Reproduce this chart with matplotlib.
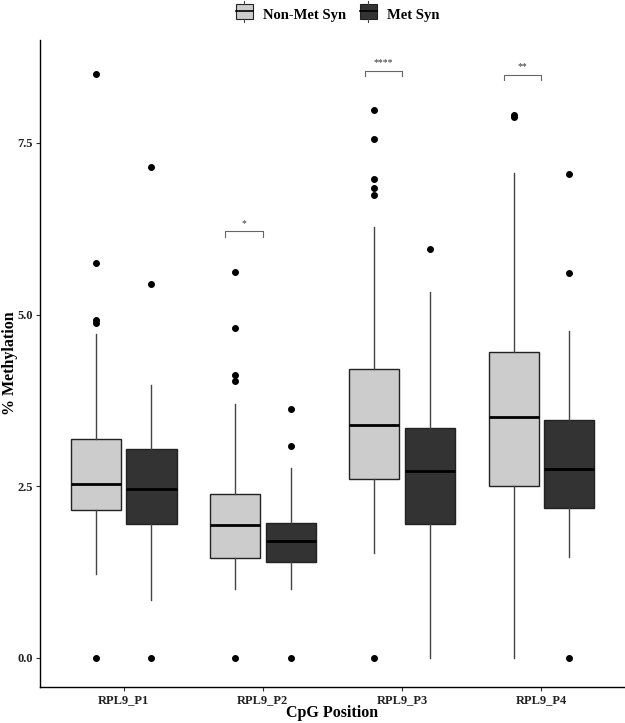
import numpy as np
import matplotlib
matplotlib.use('Agg')
import matplotlib.pyplot as plt
from matplotlib.legend_handler import HandlerBase
from matplotlib.patches import Rectangle
from matplotlib.lines import Line2D

plt.rcParams['font.family'] = ['Liberation Serif', 'DejaVu Serif']

positions = ['RPL9_P1', 'RPL9_P2', 'RPL9_P3', 'RPL9_P4']
groups = ['Non-Met Syn', 'Met Syn']

# box statistics: whislo, q1, med, q3, whishi
nonmet_lo = [1.22, 1.00, 1.53, 0.00]
nonmet_q1 = [2.15, 1.46, 2.61, 2.51]
nonmet_med = [2.53, 1.94, 3.39, 3.51]
nonmet_q3 = [3.19, 2.39, 4.21, 4.46]
nonmet_hi = [4.72, 3.70, 6.28, 7.06]
nonmet_out = [[8.50, 5.75, 4.92, 4.87, 0.0],
              [5.62, 4.80, 4.12, 4.03, 0.0],
              [7.98, 7.56, 6.97, 6.84, 6.74, 0.0],
              [7.90, 7.88]]

met_lo = [0.85, 1.00, 0.00, 1.47]
met_q1 = [1.95, 1.40, 1.95, 2.19]
met_med = [2.46, 1.70, 2.72, 2.75]
met_q3 = [3.04, 1.96, 3.35, 3.47]
met_hi = [3.98, 2.77, 5.33, 4.76]
met_out = [[7.15, 5.45, 0.0],
           [3.62, 3.09, 0.0],
           [5.96],
           [7.05, 5.61, 0.0]]

# significance brackets
sig_pos = [2, 3, 4]
sig_y = [6.21, 8.55, 8.49]
sig_lab = ['*', '****', '**']

fig = plt.figure(figsize=(6.25, 7.23), dpi=100)
ax = fig.add_axes([0.064, 0.05, 0.936, 0.895])

x = np.arange(1, len(positions) + 1)
dodge = 0.2
width = 0.36


def make_stats(lo, q1, med, q3, hi, out):
    return [dict(whislo=a, q1=b, med=c, q3=d, whishi=e, fliers=f)
            for a, b, c, d, e, f in zip(lo, q1, med, q3, hi, out)]


for stats, xs, fc in [
    (make_stats(nonmet_lo, nonmet_q1, nonmet_med, nonmet_q3, nonmet_hi, nonmet_out), x - dodge, '#cccccc'),
    (make_stats(met_lo, met_q1, met_med, met_q3, met_hi, met_out), x + dodge, '#333333'),
]:
    ax.bxp(stats, positions=xs, widths=width, patch_artist=True, showcaps=False,
           boxprops=dict(facecolor=fc, edgecolor='#222222', linewidth=1.0),
           whiskerprops=dict(color='#444444', linewidth=1.0),
           medianprops=dict(color='black', linewidth=2.0),
           flierprops=dict(marker='o', markerfacecolor='black', markeredgecolor='black',
                           markersize=4))

for p, yv, lab in zip(sig_pos, sig_y, sig_lab):
    x0, x1 = p - 0.27, p
    ax.plot([x0, x0, x1, x1], [yv - 0.08, yv, yv, yv - 0.08], color='#666666', lw=0.8)
    ax.text((x0 + x1) / 2, yv + 0.05, lab, ha='center', va='bottom', fontsize=7,
            color='#333333')

ax.set_xlim(0.4, 4.6)
ax.set_ylim(-0.42, 9.0)
ax.set_xticks(x)
ax.set_xticklabels(positions)
ax.set_yticks([0, 2.5, 5.0, 7.5])
ax.set_yticklabels(['0.0', '2.5', '5.0', '7.5'])
for lab in ax.get_xticklabels() + ax.get_yticklabels():
    lab.set_fontweight('bold')
    lab.set_fontsize(9)
    lab.set_color('#222222')
ax.tick_params(length=3, width=0.8, color='#333333', pad=2)
ax.spines['top'].set_visible(False)
ax.spines['right'].set_visible(False)
ax.spines['left'].set_linewidth(1.0)
ax.spines['bottom'].set_linewidth(1.0)
ax.set_xlabel('CpG Position', fontsize=11.5, fontweight='bold', va='center')
ax.set_ylabel('% Methylation', fontsize=11.5, fontweight='bold', va='center')
ax.xaxis.set_label_coords(0.5, -0.040)
ax.yaxis.set_label_coords(-0.052, 0.5)


class BoxKey(HandlerBase):
    def create_artists(self, legend, orig, xd, yd, w, h, fontsize, trans):
        fc = orig.get_facecolor()
        cx = xd + w / 2
        r = Rectangle((xd + 0.1 * w, yd - 0.05 * h), 0.8 * w, 1.1 * h, facecolor=fc,
                      edgecolor='#222222', lw=0.8, transform=trans)
        m = Line2D([xd + 0.1 * w, xd + 0.9 * w], [yd + h / 2] * 2, color='black', lw=1.2,
                   transform=trans)
        t = Line2D([cx, cx], [yd + 1.05 * h, yd + 1.3 * h], color='#444444', lw=0.8,
                   transform=trans)
        b = Line2D([cx, cx], [yd - 0.05 * h, yd - 0.3 * h], color='#444444', lw=0.8,
                   transform=trans)
        return [r, m, t, b]


handles = [Rectangle((0, 0), 1, 1, facecolor='#cccccc'), Rectangle((0, 0), 1, 1, facecolor='#333333')]
fig.legend(handles, groups, handler_map={Rectangle: BoxKey()}, loc='center',
           bbox_to_anchor=(0.538, 0.979), ncol=2, frameon=False,
           prop=dict(weight='bold', size=10.5), handlelength=1.5, handleheight=1.0,
           handletextpad=0.5, columnspacing=0.8)

fig.savefig('out.png', dpi=100)
